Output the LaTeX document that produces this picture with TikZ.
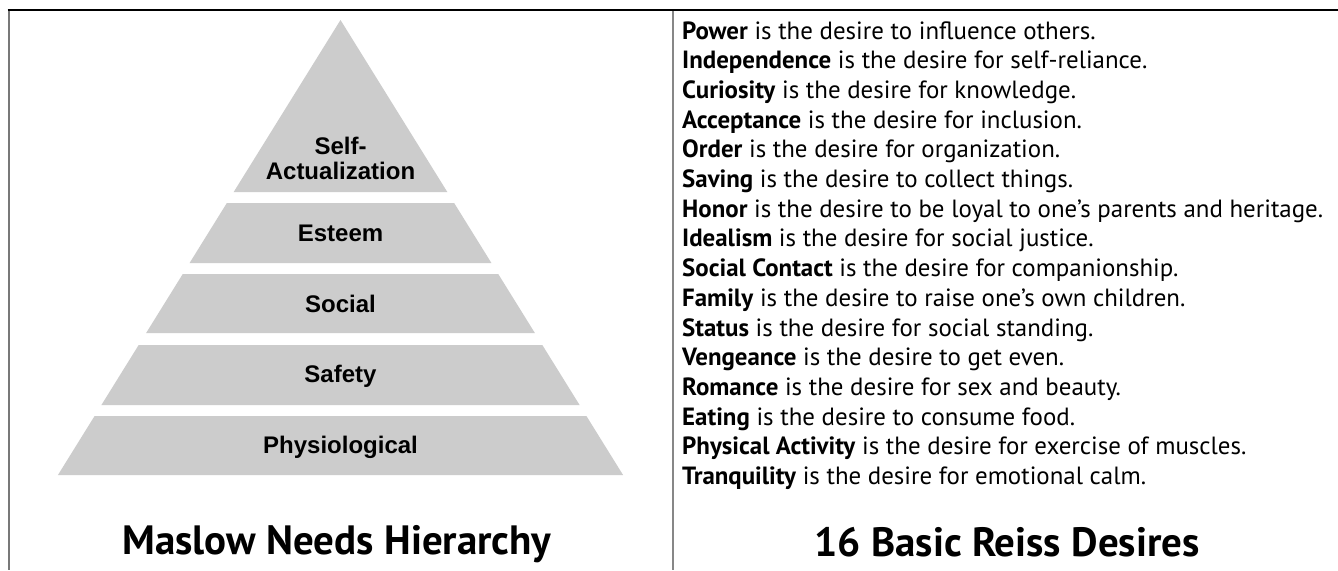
\documentclass[tikz,border=0pt]{standalone}
\usepackage{fontspec}
\setmainfont{PT Sans}
\newfontfamily\pyrfont{Liberation Sans}
\definecolor{pyrgray}{RGB}{204,204,204}
\definecolor{rulegray}{RGB}{120,120,120}
\definecolor{divgray}{RGB}{135,135,135}
\newlength\myhw
\newlength\mytw
\begin{document}
\settowidth\myhw{\fontsize{10}{12}\selectfont\textbf{Honor} is the desire to be loyal to one’s parents and heritage.}%
\pgfmathsetmacro\dsize{10*641/\myhw}%
\settowidth\mytw{\fontsize{10}{12}\selectfont\bfseries Maslow Needs Hierarchy}%
\pgfmathsetmacro\tsize{10*429/\mytw}%
\xdef\desfontsize{\dsize}%
\xdef\titfontsize{\tsize}%
\begin{tikzpicture}[x=1pt,y=-1pt,
  tier/.style={fill=pyrgray,draw=none},
  plabel/.style={font=\pyrfont\bfseries\fontsize{24}{24}\selectfont, anchor=base, inner sep=0pt},
  dline/.style={anchor=base west, inner sep=0pt, font=\fontsize{\desfontsize}{\desfontsize}\selectfont},
  ptitle/.style={anchor=base, inner sep=0pt, font=\fontsize{\titfontsize}{\titfontsize}\selectfont\bfseries}]
\useasboundingbox (0,0) rectangle (1338,570);
\fill[white] (0,0) rectangle (1338,570);
% frame lines
\draw[line width=2pt, rulegray] (8.5,10) -- (8.5,570);
\draw[line width=2.4pt, divgray] (673,10) -- (673,570);
\draw[line width=1.5pt, black] (7.5,10) -- (1338,10);
% pyramid
\def\hw#1{0.621*(#1-20)}
\fill[tier] (340.5,20) -- ({340.5+\hw{192}},192) -- ({340.5-\hw{192}},192) -- cycle;
\foreach \a/\b in {203/263, 274/333, 345/405, 416/475}{
  \fill[tier] ({340.5-\hw{\a}},\a) -- ({340.5+\hw{\a}},\a) -- ({340.5+\hw{\b}},\b) -- ({340.5-\hw{\b}},\b) -- cycle;
}
\node[plabel] (self) at (340.5,154) {Self-};
\node[plabel] (actual) at (340.5,179) {Actualization};
\node[plabel] (esteem) at (340.5,241) {Esteem};
\node[plabel] (social) at (340.5,312) {Social};
\node[plabel] (safety) at (340.5,382) {Safety};
\node[plabel] (physio) at (340.5,453) {Physiological};
\node[ptitle] (maslow) at (337,554) {Maslow Needs Hierarchy};
% desires
\def\yb#1{39+29.7*#1}
\node[dline] (d1) at (682,{\yb{0}}) {\textbf{Power} is the desire to influence others.};
\node[dline] (d2) at (682,{\yb{1}}) {\textbf{Independence} is the desire for self-reliance.};
\node[dline] (d3) at (682,{\yb{2}}) {\textbf{Curiosity} is the desire for knowledge.};
\node[dline] (d4) at (682,{\yb{3}}) {\textbf{Acceptance} is the desire for inclusion.};
\node[dline] (d5) at (682,{\yb{4}}) {\textbf{Order} is the desire for organization.};
\node[dline] (d6) at (682,{\yb{5}}) {\textbf{Saving} is the desire to collect things.};
\node[dline] (d7) at (682,{\yb{6}}) {\textbf{Honor} is the desire to be loyal to one’s parents and heritage.};
\node[dline] (d8) at (682,{\yb{7}}) {\textbf{Idealism} is the desire for social justice.};
\node[dline] (d9) at (682,{\yb{8}}) {\textbf{Social Contact} is the desire for companionship.};
\node[dline] (d10) at (682,{\yb{9}}) {\textbf{Family} is the desire to raise one’s own children.};
\node[dline] (d11) at (682,{\yb{10}}) {\textbf{Status} is the desire for social standing.};
\node[dline] (d12) at (682,{\yb{11}}) {\textbf{Vengeance} is the desire to get even.};
\node[dline] (d13) at (682,{\yb{12}}) {\textbf{Romance} is the desire for sex and beauty.};
\node[dline] (d14) at (682,{\yb{13}}) {\textbf{Eating} is the desire to consume food.};
\node[dline] (d15) at (682,{\yb{14}}) {\textbf{Physical Activity} is the desire for exercise of muscles.};
\node[dline] (d16) at (682,{\yb{15}}) {\textbf{Tranquility} is the desire for emotional calm.};
\node[ptitle] (reiss) at (1007,556) {16 Basic Reiss Desires};
\end{tikzpicture}
\end{document}
